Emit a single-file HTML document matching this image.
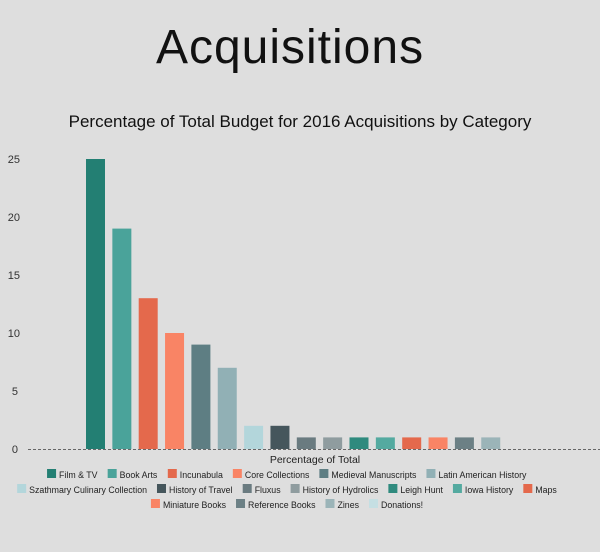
<!DOCTYPE html>
<html><head><style>
body{margin:0;width:600px;height:552px;background:#dedede;font-family:"Liberation Sans",sans-serif;overflow:hidden;position:relative}
.t{position:absolute;left:0;width:580px;text-align:center}
</style></head><body>
<div class="t" style="top:20px;font-size:48px;color:#111;letter-spacing:1px">Acquisitions</div>
<div class="t" style="top:112px;font-size:17px;color:#111;width:600px">Percentage of Total Budget for 2016 Acquisitions by Category</div>
<svg width="600" height="552" style="position:absolute;left:0;top:0" font-family="Liberation Sans, sans-serif">
<g font-size="11" fill="#333" text-anchor="end">
<text x="20" y="163">25</text><text x="20" y="221">20</text><text x="20" y="279">15</text><text x="20" y="337">10</text><text x="18" y="395">5</text><text x="18" y="453">0</text>
</g>
<g id="bars"></g>
<line x1="28" y1="449.5" x2="600" y2="449.5" stroke="#666" stroke-dasharray="3,2"/>
<text x="315" y="463" font-size="10.5" fill="#222" text-anchor="middle">Percentage of Total</text>
<g font-size="8.8" fill="#222" id="leg"></g>
</svg>
<script>
var v=[25,19,13,10,9,7,2,2,1,1,1,1,1,1,1,1,0];
var c=["#237f73","#4aa39a","#e4694c","#f98465","#5e7e83","#91b0b5","#b3d6db","#45565c","#6a7b80","#8f9c9f","#2f8a7e","#54aaa0","#e4694c","#f98465","#6c8085","#9bb4b8","#c5dfe3"];
var n=["Film & TV","Book Arts","Incunabula","Core Collections","Medieval Manuscripts","Latin American History","Szathmary Culinary Collection","History of Travel","Fluxus","History of Hydrolics","Leigh Hunt","Iowa History","Maps","Miniature Books","Reference Books","Zines","Donations!"];
var s="";for(var i=0;i<17;i++){var h=v[i]*11.6;s+='<rect x="'+(86+i*26.35)+'" y="'+(449-h)+'" width="19" height="'+h+'" fill="'+c[i]+'"/>';}
document.getElementById("bars").innerHTML=s;
var rows=[[0,6],[6,13],[13,17]],ys=[478,493,508],L="";
var cv=document.createElement("canvas").getContext("2d");cv.font="8.8px Liberation Sans";
var G=10,T=12;
rows.forEach(function(r,k){var w=0;for(var i=r[0];i<r[1];i++)w+=T+cv.measureText(n[i]).width+(i<r[1]-1?G:0);
var x=287-w/2;for(var i=r[0];i<r[1];i++){L+='<rect x="'+x+'" y="'+(ys[k]-9)+'" width="9" height="9" fill="'+c[i]+'"/>';L+='<text x="'+(x+T)+'" y="'+ys[k]+'">'+n[i].replace("&","&amp;")+'</text>';x+=T+cv.measureText(n[i]).width+G;}});
document.getElementById("leg").innerHTML=L;
</script>
</body></html>
